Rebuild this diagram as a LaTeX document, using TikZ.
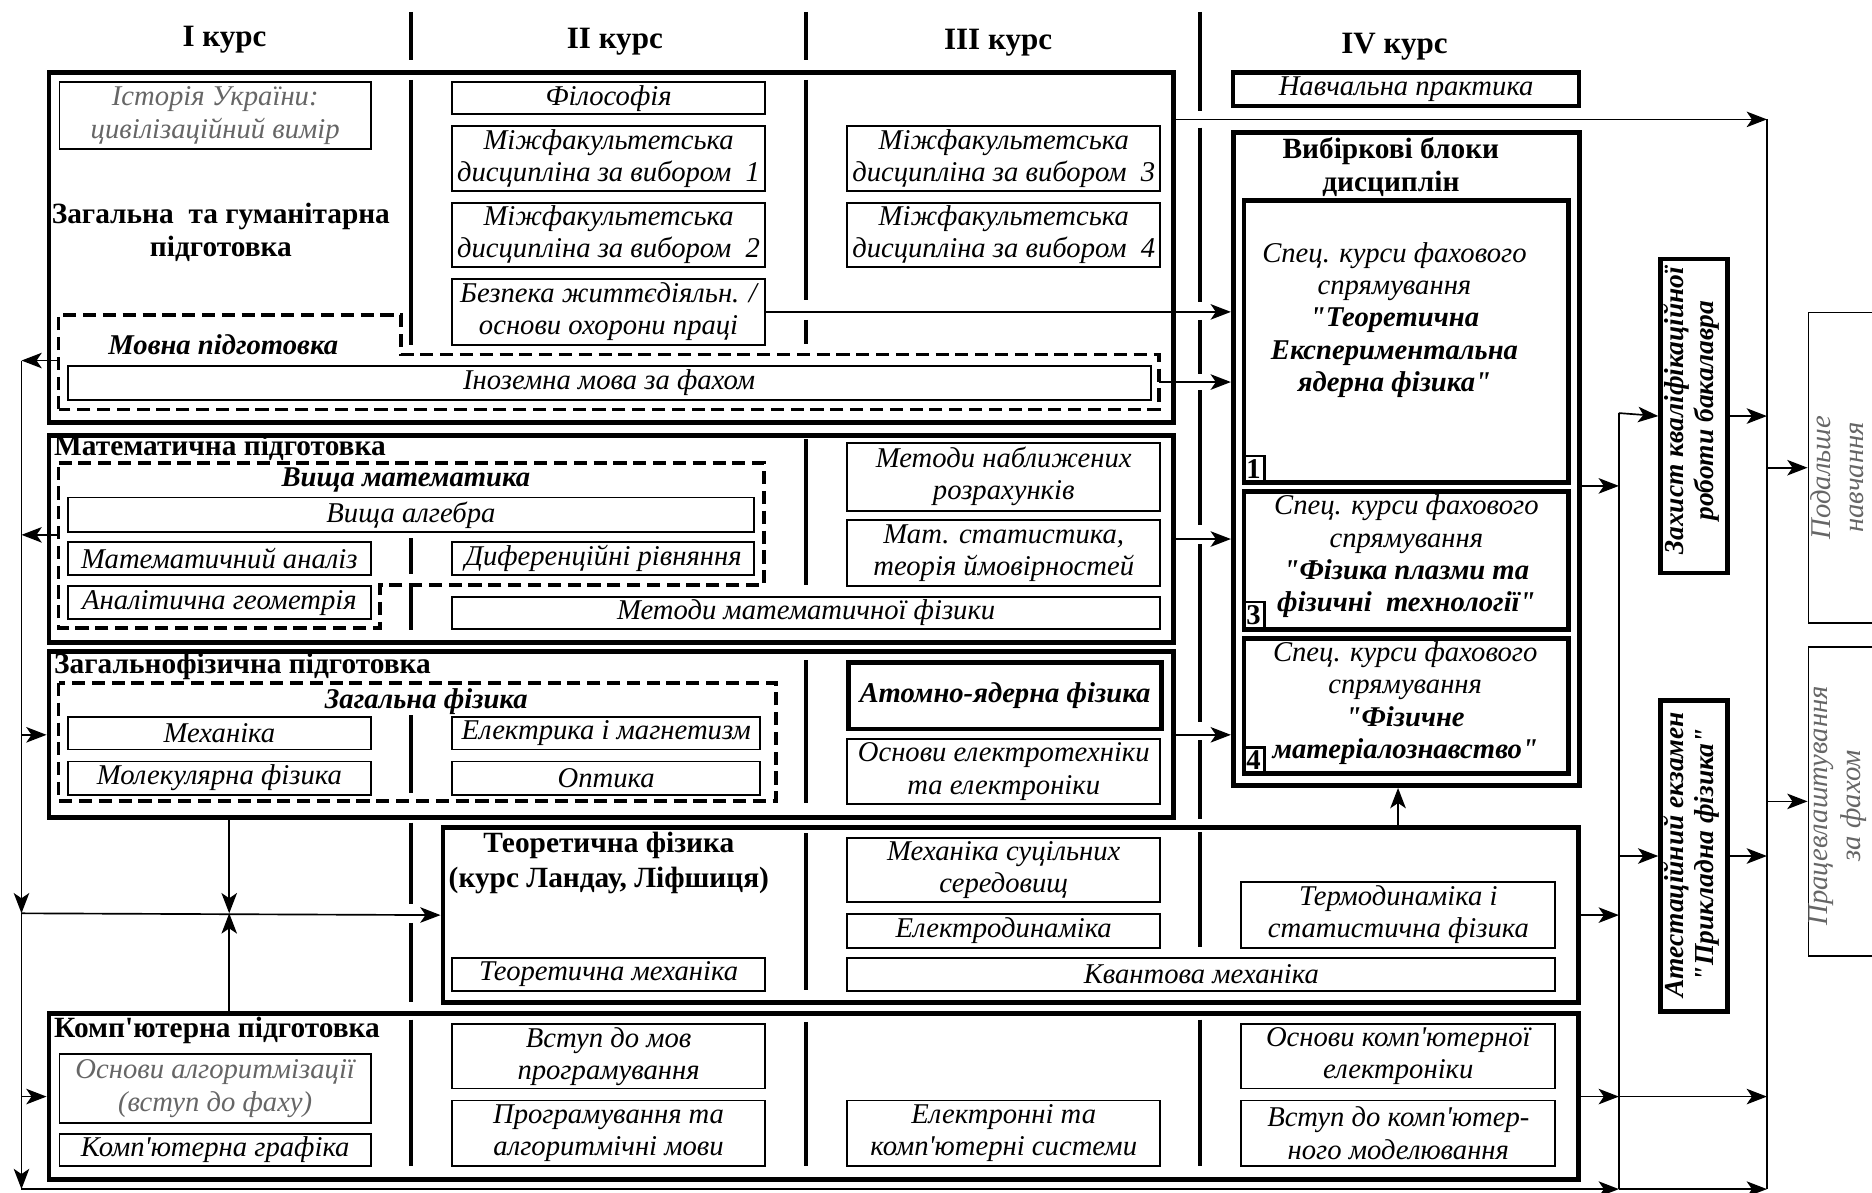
\documentclass[tikz,border=0pt]{standalone}
\usepackage{fontspec}
\setmainfont{Liberation Serif}[Ligatures=TeXOff]
\usetikzlibrary{arrows.meta}
\newcommand\bxf{\fontsize{12}{13.5}\selectfont\itshape}
\newcommand\hdf{\fontsize{12.3}{13.8}\selectfont\bfseries}
\newcommand\bif{\fontsize{12}{13.5}\selectfont\bfseries\itshape}
\newcommand\rbox[7]{\node[#6, anchor=north west, minimum width={(#4-#2)*0.5pt}, minimum height={(#5-#3)*0.5pt}] (#1) at (#2,#3) {#7};}
\begin{document}
\begin{tikzpicture}[x=0.5pt, y=-0.5pt,
  thin box/.style={draw, line width=0.75pt, inner sep=0pt, align=center, font=\bxf},
  thick box/.style={draw, line width=2pt, inner sep=0pt, align=center},
  dash box/.style={line width=1.6pt, dash pattern=on 5.5pt off 2.8pt},
  divider/.style={line width=1.7pt},
  conn/.style={line width=0.7pt, -{Stealth[length=8.5pt,width=6.5pt,inset=2.2pt]}},
  wire/.style={line width=0.7pt},
  headtext/.style={font=\hdf, align=center, inner sep=0pt},
  subtext/.style={font=\bif, align=center, inner sep=0pt},
  grey text/.style={text=black!60},
  numtag/.style={draw, line width=1pt, inner sep=0pt, font=\fontsize{12}{12}\selectfont\bfseries},
]
\fill[white] (0,0) rectangle (1568,999);
\useasboundingbox (0,0) rectangle (1568,999);

% ---------- headers ----------
\node[headtext, font=\fontsize{13}{14}\selectfont\bfseries] (k1) at (188,33) {I курс};
\node[headtext, font=\fontsize{13}{14}\selectfont\bfseries] (k2) at (515,35) {II курс};
\node[headtext, font=\fontsize{13}{14}\selectfont\bfseries] (k3) at (836,36) {III курс};
\node[headtext, font=\fontsize{13}{14}\selectfont\bfseries] (k4) at (1168,39) {IV курс};

% ---------- course dividers ----------
\foreach \xx/\ya/\yb in {344/10/50, 344/67/289, 344/451/481, 344/491/528, 344/599/664, 344/689/757, 344/773/839, 344/854/977,
  675/10/50, 675/67/251, 675/268/288, 675/368/490, 675/553/673, 675/698/829, 675/856/977,
  1005/10/93, 1005/107/253, 1005/268/313, 1005/327/440, 1005/456/605, 1005/620/686, 1005/697/793, 1005/854/977}
  \draw[divider] (\xx,\ya) -- (\xx,\yb);

% ---------- general & humanitarian ----------
\rbox{gA}{39}{59}{981}{352}{thick box}{}
\rbox{hist}{49}{68}{310}{124}{thin box, grey text}{Історія України:\\цивілізаційний вимір}
\node[headtext] (gAt) at (185,195) {Загальна\ \ та гуманітарна\\підготовка};
\rbox{phil}{378}{68}{640}{95}{thin box}{Філософія}
\rbox{mf1}{378}{105}{640}{159}{thin box}{Міжфакультетська\\дисципліна за вибором\ \ 1}
\rbox{mf2}{378}{169}{640}{223}{thin box}{Міжфакультетська\\дисципліна за вибором\ \ 2}
\rbox{bzh}{378}{233}{640}{288}{thin box}{Безпека життєдіяльн. /\\основи охорони праці}
\rbox{mf3}{709}{105}{971}{159}{thin box}{Міжфакультетська\\дисципліна за вибором\ \ 3}
\rbox{mf4}{709}{169}{971}{223}{thin box}{Міжфакультетська\\дисципліна за вибором\ \ 4}
\draw[dash box] (49,343) -- (49,264) -- (336,264) -- (336,297) -- (971,297) -- (971,343) -- cycle;
\node[subtext] (movt) at (187,289) {Мовна підготовка};
\rbox{inoz}{56}{306}{963}{334}{thin box}{Іноземна мова за фахом}
\coordinate (movR) at (971,320);
\coordinate (movL) at (49,302);

% ---------- mathematics ----------
\rbox{gM}{39}{363}{981}{536}{thick box}{}
\node[headtext, anchor=west] (gMt) at (45,375) {Математична підготовка};
\draw[dash box] (49,388) -- (640,388) -- (640,490) -- (318,490) -- (318,526) -- (49,526) -- cycle;
\node[subtext] (vmt) at (340,402) {Вища математика};
\rbox{valg}{56}{416}{631}{445}{thin box}{Вища алгебра}
\rbox{man}{56}{453}{310}{481}{thin box}{Математичний аналіз}
\rbox{agm}{56}{490}{310}{518}{thin box}{Аналітична геометрія}
\rbox{dif}{378}{453}{631}{481}{thin box}{Диференційні рівняння}
\rbox{mnr}{709}{370}{971}{427}{thin box}{Методи наближених\\розрахунків}
\rbox{mst}{709}{435}{971}{490}{thin box}{Мат. статистика,\\теорія ймовірностей}
\rbox{mmf}{378}{499}{971}{526}{thin box}{Методи математичної фізики}
\coordinate (vmL) at (49,448);

% ---------- general physics ----------
\rbox{gF}{39}{544}{981}{683}{thick box}{}
\node[headtext, anchor=west] (gFt) at (45,558) {Загальнофізична підготовка};
\draw[dash box] (49,572) rectangle (650,671);
\node[subtext] (zft) at (357,588) {Загальна фізика};
\rbox{mech}{56}{600}{310}{627}{thin box}{Механіка}
\rbox{mol}{56}{637}{310}{665}{thin box}{Молекулярна фізика}
\rbox{elm}{378}{600}{636}{627}{thin box}{Електрика і магнетизм}
\rbox{opt}{378}{637}{636}{665}{thin box}{Оптика}
\rbox{atom}{709}{553}{971}{609}{thick box, line width=1.8pt, font=\bif}{Атомно-ядерна фізика}
\rbox{oet}{709}{618}{971}{673}{thin box}{Основи електротехніки\\та електроніки}

% ---------- theoretical physics ----------
\rbox{gT}{369}{691}{1320}{838}{thick box}{}
\node[headtext, font=\fontsize{12.3}{14.5}\selectfont\bfseries] (gTt) at (510,723) {Теоретична фізика\\(курс Ландау, Ліфшиця)};
\rbox{msc}{709}{701}{971}{755}{thin box}{Механіка суцільних\\середовищ}
\rbox{edyn}{709}{765}{971}{793}{thin box}{Електродинаміка}
\rbox{term}{1039}{738}{1302}{793}{thin box}{Термодинаміка і\\статистична фізика}
\rbox{tmech}{378}{802}{640}{829}{thin box}{Теоретична механіка}
\rbox{qm}{709}{802}{1302}{829}{thin box}{Квантова механіка}

% ---------- computer ----------
\rbox{gC}{39}{847}{1320}{986}{thick box}{}
\node[headtext, anchor=west] (gCt) at (45,863) {Комп'ютерна підготовка};
\rbox{alg}{49}{882}{310}{940}{thin box, grey text}{Основи алгоритмізації\\(вступ до фаху)}
\rbox{cgr}{49}{949}{310}{976}{thin box}{Комп'ютерна графіка}
\rbox{vmp}{378}{857}{640}{911}{thin box}{Вступ до мов\\програмування}
\rbox{pam}{378}{921}{640}{976}{thin box}{Програмування та\\алгоритмічні мови}
\rbox{eks}{709}{921}{971}{976}{thin box}{Електронні та\\комп'ютерні системи}
\rbox{oke}{1039}{857}{1302}{911}{thin box}{Основи комп'ютерної\\електроніки}
\rbox{vkm}{1039}{921}{1302}{976}{thin box}{Вступ до комп'ютер-\\ного моделювання}

% ---------- IV course ----------
\rbox{nav}{1031}{59}{1321}{87}{thick box, line width=1.8pt, font=\bxf}{Навчальна практика}
\rbox{vyb}{1031}{109}{1321}{656}{thick box}{}
\node[headtext] (vybt) at (1165,140) {Вибіркові блоки\\дисциплін};
\rbox{sb1}{1040}{166}{1312}{402}{thick box}{}
\rbox{sb3}{1040}{410}{1312}{525}{thick box}{}
\rbox{sb4}{1040}{533}{1312}{646}{thick box}{}
\node[font=\bxf, align=center, inner sep=0pt] (sb1t) at (1168,268) {Спец. курси фахового\\спрямування\\{\bif "Теоретична}\\{\bif Експериментальна}\\{\bif ядерна фізика"}};
\node[font=\bxf, align=center, inner sep=0pt] (sb3t) at (1178,466) {Спец. курси фахового\\спрямування\\{\bif "Фізика плазми та}\\{\bif фізичні\ \ технології"}};
\node[font=\bxf, align=center, inner sep=0pt] (sb4t) at (1177,589) {Спец. курси фахового\\спрямування\\{\bif "Фізичне}\\{\bif матеріалознавство"}};
\rbox{n1}{1040}{381}{1058}{402}{numtag}{1}
\rbox{n3}{1040}{503}{1058}{525}{numtag}{3}
\rbox{n4}{1040}{625}{1058}{646}{numtag}{4}

% ---------- final stages ----------
\rbox{zah}{1389}{215}{1445}{478}{thick box}{}
\node[rotate=90, font=\fontsize{11.5}{12.5}\selectfont\bfseries\itshape, align=center, inner sep=0pt] (zaht) at (1417,344) {Захист кваліфікаційної\\роботи бакалавра};
\rbox{att}{1389}{585}{1445}{845}{thick box}{}
\node[rotate=90, font=\fontsize{11.5}{12.5}\selectfont\bfseries\itshape, align=center, inner sep=0pt] (attt) at (1417,716) {Атестаційний екзамен\\"Прикладна фізика"};
\rbox{pod}{1514}{261}{1620}{521}{thin box}{}
\node[rotate=90, font=\fontsize{12}{14}\selectfont\itshape, grey text, align=center, inner sep=0pt] (podt) at (1539,400) {Подальше\\навчання};
\rbox{prac}{1514}{541}{1620}{800}{thin box}{}
\node[rotate=90, font=\fontsize{12}{14}\selectfont\itshape, grey text, align=center, inner sep=0pt] (pract) at (1539,675) {Працевлаштування\\за фахом};

% ---------- bus coordinates ----------
\coordinate (busTop) at (18,302);
\coordinate (busJ) at (18,765);
\coordinate (busBot) at (18,996);
\coordinate (midJ) at (192,765);
\coordinate (r1Top) at (1356,346);
\coordinate (r1Bot) at (1356,996);
\coordinate (r2Top) at (1480,100);
\coordinate (r2Bot) at (1480,996);
\coordinate (vybR) at (1321,407);
\coordinate (tUp) at (1171,691);

% ---------- left connectors ----------
\draw[conn] (movL) -- (busTop);
\draw[conn] (vmL) -- (vmL -| busTop);
\draw[conn] (busTop) -- (busJ);
\draw[conn] (busJ) -- (busBot);
\draw[conn] (gF.west -| busJ) -- (gF.west);
\draw[conn] (gC.west -| busJ) -- (gC.west);
\draw[conn] (busJ) -- (gT.west);
\draw[conn] (gF.south -| midJ) -- (midJ);
\draw[conn] (gC.north -| midJ) -- (midJ);
\draw[conn] (busBot) -- (r1Bot);
\draw[conn] (r1Bot) -- (r2Bot);

% ---------- right connectors ----------
\draw[conn] (gA.east |- r2Top) -- (r2Top);
\draw[wire] (r2Top) -- (r2Bot);
\draw[wire] (r1Top) -- (r1Bot);
\draw[conn] (bzh.east) -- (bzh.east -| vyb.west);
\draw[conn] (movR) -- (movR -| vyb.west);
\draw[conn] (gM.east) -- (gM.east -| vyb.west);
\draw[conn] (gF.east) -- (gF.east -| vyb.west);
\draw[conn] (tUp) -- (tUp |- vyb.south);
\draw[conn] (vybR) -- (vybR -| r1Top);
\draw[conn] (gT.east) -- (gT.east -| r1Top);
\draw[conn] (gC.east) -- (gC.east -| r1Top);
\draw[conn] (gC.east -| r1Top) -- (gC.east -| r2Top);
\draw[conn] (r1Top) -- (zah.west);
\draw[conn] (zah.east) -- (zah.east -| r2Top);
\draw[conn] (att.west -| r1Top) -- (att.west);
\draw[conn] (att.east) -- (att.east -| r2Top);
\draw[conn] (pod.west -| r2Top) -- (pod.west);
\draw[conn] (prac.west -| r2Top) -- (prac.west);
\end{tikzpicture}
\end{document}
